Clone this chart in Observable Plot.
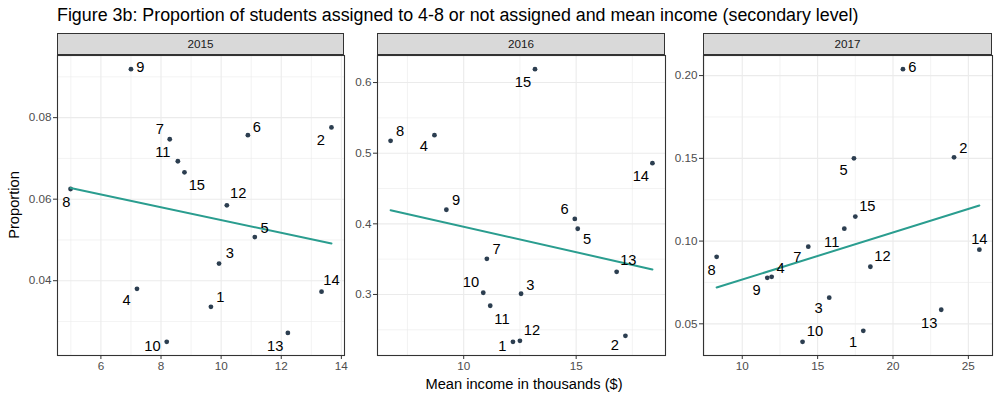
<!DOCTYPE html>
<html>
<head>
<meta charset="utf-8">
<script src="https://cdn.jsdelivr.net/npm/d3@7"></script>
<script src="https://cdn.jsdelivr.net/npm/@observablehq/plot@0.6"></script>
<style>
  html, body { margin: 0; padding: 0; background: #ffffff; }
  #root { position: relative; width: 1000px; height: 400px; font-family: "Liberation Sans", Arial, sans-serif; overflow: hidden; }
  .abs { position: absolute; }
  .strip { position: absolute; box-sizing: border-box; border: 1px solid #333333; background: #D9D9D9; color: #1A1A1A; font-size: 11.7px; text-align: center; line-height: 20px; }
</style>
</head>
<body>
<div id="root"></div>
<script>
// ---- data ----
const districts = ["1","2","3","4","5","6","7","8","9","10","11","12","13","14","15"];
const years = ["2015", "2016", "2017"];

const income2015 = [9.66, 13.67, 9.93, 7.20, 11.12, 10.89, 8.29, 4.99, 7.00, 8.19, 8.56, 10.19, 12.22, 13.34, 8.78];
const prop2015   = [0.0336, 0.0776, 0.0442, 0.0380, 0.0507, 0.0757, 0.0747, 0.0625, 0.0919, 0.0250, 0.0693, 0.0585, 0.0272, 0.0373, 0.0666];

const income2016 = [12.19, 17.19, 12.55, 8.70, 15.07, 14.94, 11.03, 6.75, 9.23, 10.87, 11.18, 12.50, 16.80, 18.39, 13.17];
const prop2016   = [0.2329, 0.2414, 0.301, 0.5255, 0.393, 0.407, 0.3504, 0.5175, 0.4199, 0.3024, 0.284, 0.2343, 0.332, 0.4858, 0.619];

const income2017 = [18.03, 24.05, 15.77, 11.95, 17.41, 20.66, 14.38, 8.30, 11.66, 14.00, 16.77, 18.50, 23.20, 25.73, 17.50];
const prop2017   = [0.0458, 0.1506, 0.0658, 0.0784, 0.150, 0.2039, 0.0966, 0.0905, 0.0778, 0.0391, 0.1075, 0.0845, 0.0585, 0.0948, 0.1148];

// tick values
const xTicks2015 = [6, 8, 10, 12, 14],  xMinor2015 = [5, 7, 9, 11, 13];
const yTicks2015 = [0.04, 0.06, 0.08],  yMinor2015 = [0.03, 0.05, 0.07, 0.09];
const xTicks2016 = [10, 15],            xMinor2016 = [7.5, 12.5, 17.5];
const yTicks2016 = [0.3, 0.4, 0.5, 0.6], yMinor2016 = [0.25, 0.35, 0.45, 0.55];
const xTicks2017 = [10, 15, 20, 25],    xMinor2017 = [7.5, 12.5, 17.5, 22.5];
const yTicks2017 = [0.05, 0.10, 0.15, 0.20], yMinor2017 = [0.075, 0.125, 0.175];

// label nudges (pixels, repel-style placement)
const nudgeX2015 = [9.4, -10.6, 10.7, -10.3, 9.7, 9, -10, -4.3, 9.4, -14.3, -15, 11.4, -12.7, 10, 12.4];
const nudgeY2015 = [-9.6, 12.4, -10, 11, -9.3, -8.3, -10, 13.4, -2, 4.4, -8.6, -11.6, 13, -11, 13];
const nudgeX2016 = [-10.6, -10.6, 9.4, -10.6, 9.4, -10.3, 9.7, 9.4, 9.7, -12.3, 11.7, 12, 11.7, -11.6, -12];
const nudgeY2016 = [4, 9.7, -8.3, 11.4, 11, -9.3, -9.3, -9.3, -9.3, -10.6, 13.4, -11, -12, 13.4, 13.4];
const nudgeX2017 = [-10.3, 9.4, -10.6, 9, -10.3, 9.4, -11, -5, -10.6, 12.4, -12.6, 12, -12, 0, 12];
const nudgeY2017 = [11.4, -8.6, 11, -9, 12.4, -1.6, 11, 13.4, 12.4, -10.6, 14, -10.6, 13.4, -10.3, -10.6];

// ---- layout ----
const root = document.getElementById("root");
const FONT = '"Liberation Sans", Arial, sans-serif';
const frameTop = 55, frameH = 300;
const panels = [
  {year: years[0], income: income2015, prop: prop2015, nx: nudgeX2015, ny: nudgeY2015, xt: xTicks2015, xm: xMinor2015, yt: yTicks2015, ym: yMinor2015, fmt: d3.format(".2f"), left: 57, width: 287},
  {year: years[1], income: income2016, prop: prop2016, nx: nudgeX2016, ny: nudgeY2016, xt: xTicks2016, xm: xMinor2016, yt: yTicks2016, ym: yMinor2016, fmt: d3.format(".1f"), left: 377, width: 288},
  {year: years[2], income: income2017, prop: prop2017, nx: nudgeX2017, ny: nudgeY2017, xt: xTicks2017, xm: xMinor2017, yt: yTicks2017, ym: yMinor2017, fmt: d3.format(".2f"), left: 703, width: 289}
];

function expand(ext) { const p = (ext[1] - ext[0]) * 0.05; return [ext[0] - p, ext[1] + p]; }

for (const p of panels) {
  const data = districts.map((id, i) => ({id, x: p.income[i], y: p.prop[i], dx: p.nx[i], dy: p.ny[i]}));
  const mL = 44, mR = 6, mT = 4, mB = 24;
  const labels = data.map(d => Plot.text([d], {x: "x", y: "y", text: "id", dx: d.dx, dy: d.dy, fill: "#000000", fontSize: 14.7, textAnchor: "middle"}));
  const chart = Plot.plot({
    width: mL + p.width + mR,
    height: mT + frameH + mB,
    marginLeft: mL, marginRight: mR, marginTop: mT, marginBottom: mB,
    x: {domain: expand(d3.extent(p.income))},
    y: {domain: expand(d3.extent(p.prop))},
    style: {fontFamily: FONT, fontSize: "11.7px", color: "#4D4D4D", background: "transparent", overflow: "visible"},
    marks: [
      Plot.ruleX(p.xm, {stroke: "#EBEBEB", strokeWidth: 0.6}),
      Plot.ruleY(p.ym, {stroke: "#EBEBEB", strokeWidth: 0.6}),
      Plot.ruleX(p.xt, {stroke: "#EBEBEB", strokeWidth: 1.1}),
      Plot.ruleY(p.yt, {stroke: "#EBEBEB", strokeWidth: 1.1}),
      Plot.axisX(p.xt, {tickSize: 4, tickPadding: 2, stroke: "#333333", label: null}),
      Plot.axisY(p.yt, {tickSize: 4, tickPadding: 2, stroke: "#333333", tickFormat: p.fmt, label: null}),
      Plot.dot(data, {x: "x", y: "y", r: 2.4, fill: "#2C3E50", stroke: "none"}),
      Plot.linearRegressionY(data, {x: "x", y: "y", stroke: "#2A9D8F", strokeWidth: 2, ci: 0}),
      ...labels,
      Plot.frame({stroke: "#333333", strokeWidth: 1.1})
    ]
  });
  chart.classList.add("abs");
  chart.style.left = (p.left - mL) + "px";
  chart.style.top = (frameTop - mT) + "px";
  root.appendChild(chart);

  const strip = document.createElement("div");
  strip.className = "strip";
  strip.style.left = p.left + "px";
  strip.style.top = "33px";
  strip.style.width = p.width + "px";
  strip.style.height = "22px";
  strip.textContent = p.year;
  root.appendChild(strip);
}

// title
const title = document.createElement("div");
title.className = "abs";
Object.assign(title.style, {left: "57px", top: "6.5px", fontSize: "17.85px", lineHeight: "1", color: "#000000", whiteSpace: "nowrap"});
title.textContent = "Figure 3b: Proportion of students assigned to 4-8 or not assigned and mean income (secondary level)";
root.appendChild(title);

// y axis title
const ylab = document.createElement("div");
ylab.className = "abs";
Object.assign(ylab.style, {left: "14px", top: "205px", fontSize: "14.67px", lineHeight: "1", color: "#000000", whiteSpace: "nowrap", transform: "translate(-50%, -50%) rotate(-90deg)"});
ylab.textContent = "Proportion";
root.appendChild(ylab);

// x axis title
const xlab = document.createElement("div");
xlab.className = "abs";
Object.assign(xlab.style, {left: "524px", top: "384px", fontSize: "14.67px", lineHeight: "1", color: "#000000", whiteSpace: "nowrap", transform: "translate(-50%, -50%)"});
xlab.textContent = "Mean income in thousands ($)";
root.appendChild(xlab);
</script>
</body>
</html>
